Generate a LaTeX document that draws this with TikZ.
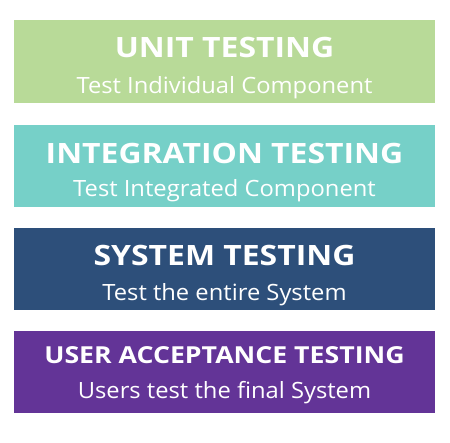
\documentclass[tikz,border=0pt]{standalone}
\usepackage{fontspec}
\setmainfont{Open Sans}
% slightly widened faces for the band headings and captions
\newfontfamily\headfont{Open Sans}[FakeStretch=1.14]
\newfontfamily\capfont{Open Sans}[FakeStretch=1.06]
\definecolor{unitgreen}{HTML}{B8DA98}
\definecolor{integteal}{HTML}{76D0C8}
\definecolor{sysnavy}{HTML}{2D4F7A}
\definecolor{uatpurple}{HTML}{633497}
\begin{document}
\begin{tikzpicture}[x=1pt,y=-1pt,
  band/.style={fill=#1, draw=none},
  title/.style={anchor=base, text=white, font=\headfont\bfseries\fontsize{28}{28}\selectfont, inner sep=0pt},
  smalltitle/.style={anchor=base, text=white, font=\headfont\bfseries\fontsize{23.4}{24}\selectfont, inner sep=0pt},
  subtitle/.style={anchor=base, text=white, font=\capfont\fontsize{22.4}{23}\selectfont, inner sep=0pt}]
  \useasboundingbox (0,0) rectangle (450,442);
  % four stacked testing levels
  \fill[band=unitgreen]  (14,20)  rectangle (435,103);
  \fill[band=integteal]  (14,125) rectangle (435,207);
  \fill[band=sysnavy]    (14,228) rectangle (435,310);
  \fill[band=uatpurple]  (14,331) rectangle (435,413);
  \node[title]    (t1) at (224.5,57.7)  {UNIT TESTING};
  \node[subtitle] (s1) at (224.5,93.3)  {Test Individual Component};
  \node[title]    (t2) at (224.5,163.3) {INTEGRATION TESTING};
  \node[subtitle] (s2) at (224.5,196.7) {Test Integrated Component};
  \node[title]    (t3) at (224.5,265.7) {SYSTEM TESTING};
  \node[subtitle] (s3) at (224.5,300.5) {Test the entire System};
  \node[smalltitle] (t4) at (224.5,363.3) {USER ACCEPTANCE TESTING};
  \node[subtitle] (s4) at (224.5,398.3) {Users test the final System};
\end{tikzpicture}
\end{document}
